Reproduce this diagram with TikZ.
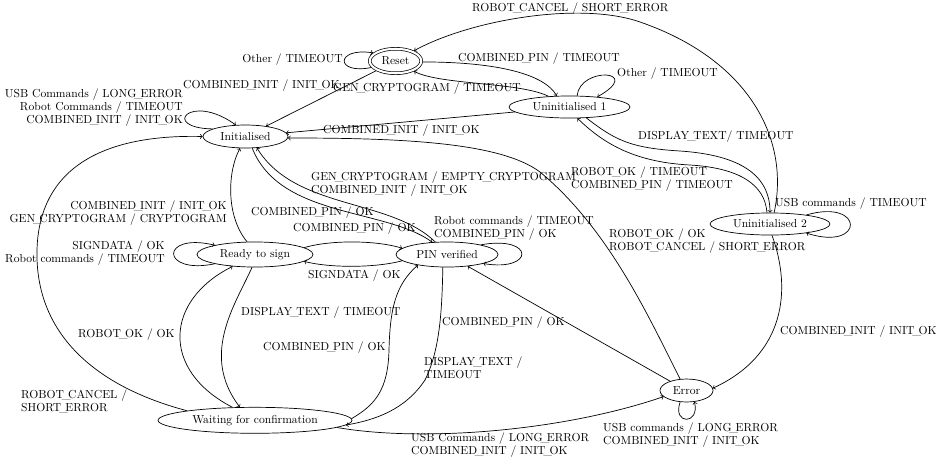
\documentclass[tikz,border=0pt]{standalone}
\usetikzlibrary{shapes.geometric}
% a tight underscore, as in the classic OT1 rendering
\newcommand\usc{\kern-0.2em\_\kern-0.2em}
\begin{document}
\begin{tikzpicture}[x=0.8621pt,y=-0.8621pt,
  every node/.style={font=\fontsize{10}{11.2}\selectfont},
  state/.style={draw, ellipse, inner sep=0pt, line width=0.6pt},
  lbl/.style={inner sep=0pt},
  lblL/.style={lbl, anchor=west, align=left},
  lblR/.style={lbl, anchor=east, align=right},
  tr/.style={->, line width=0.6pt},
]
\useasboundingbox (0,0) rectangle (942,460);

% states
\node[state, double, double distance=1.8pt, outer sep=1.5pt,
      minimum width=44.4pt, minimum height=21.1pt] (reset) at (395.5,61) {Reset};
\node[state, minimum width=104.3pt, minimum height=19pt]   (uninit1) at (569.5,107)  {Uninitialised 1};
\node[state, minimum width=73.3pt,  minimum height=19.8pt] (init)    at (245.5,136.5) {Initialised};
\node[state, minimum width=100pt,   minimum height=21.6pt] (ready)   at (255,254.5)  {Ready to sign};
\node[state, minimum width=87.9pt,  minimum height=21.6pt] (pin)     at (447,254.5)  {PIN verified};
\node[state, minimum width=167.2pt, minimum height=22.4pt] (wait)    at (255,420.3)  {Waiting for confirmation};
\node[state, minimum width=103.4pt, minimum height=19pt]   (uninit2) at (770,224)    {Uninitialised 2};
\node[state, minimum width=45.7pt,  minimum height=19.8pt] (error)   at (686.5,390.5) {Error};

% transitions out of Reset
\draw[tr] (reset.195) .. controls (335,75) and (335,47) .. (reset.160);
\draw[tr] (reset) -- (init);
\draw[tr] (reset.-2) .. controls (500,62) and (545,75) .. (uninit1.139);

% transitions out of Uninitialised 1
\draw[tr] (uninit1.153) .. controls (520,82) and (440,85) .. (reset.-29);
\draw[tr] (uninit1.56) .. controls (580,66) and (645,70) .. (uninit1.20);
\draw[tr] (uninit1) -- (init);
\draw[tr] (uninit1.-33) .. controls (615,140) and (630,148) .. (680,151)
          .. controls (740,155) and (770,175) .. (uninit2.90);

% transitions out of Uninitialised 2
\draw[tr] (uninit2.105) .. controls (765,185) and (740,168) .. (690,165)
          .. controls (630,162) and (600,140) .. (uninit1.-55);
\draw[tr] (uninit2.70) .. controls (790,140) and (750,60) .. (640,22)
          .. controls (580,1) and (470,20) .. (reset.29);
\draw[tr] (uninit2.14) .. controls (865,198) and (865,252) .. (uninit2.-14);
\draw[tr] (uninit2.-80) .. controls (792,290) and (785,355) .. (error.5);

% transitions out of Initialised
\draw[tr] (init.167) .. controls (160,128) and (190,92) .. (init.130);
\draw[tr] (init.-60) .. controls (280,218) and (385,208) .. (pin.140);

% transitions out of Ready to sign
\draw[tr] (ready.193) .. controls (160,275) and (160,232) .. (ready.167);
\draw[tr] (ready.122) .. controls (225,215) and (228,170) .. (init.-115);
\draw[tr] (ready.8) .. controls (330,240) and (375,240) .. (pin.172);
\draw[tr] (ready.-103) .. controls (235,305) and (200,355) .. (wait.139);

% transitions out of PIN verified
\draw[tr] (pin.133) .. controls (390,198) and (295,210) .. (init.-45);
\draw[tr] (pin.188) .. controls (375,268) and (330,268) .. (ready.-8);
\draw[tr] (pin.16) .. controls (535,235) and (535,272) .. (pin.-14);
\draw[tr] (pin.252) .. controls (442,310) and (440,350) .. (425,380)
          .. controls (405,410) and (375,420) .. (wait.-3.6);

% transitions out of Waiting for confirmation
\draw[tr] (wait.172) .. controls (90,385) and (35,330) .. (37,250)
          .. controls (39,170) and (100,134) .. (init.180);
\draw[tr] (wait.150) .. controls (160,370) and (165,300) .. (ready.208);
\draw[tr] (wait.1.5) .. controls (375,405) and (388,390) .. (389,350)
          .. controls (390,310) and (395,285) .. (pin.200);
\draw[tr] (wait.-5) .. controls (420,442) and (560,432) .. (error.195);

% transitions out of Error
\draw[tr] (error) -- (pin);
\draw[tr] (error.119.5) .. controls (650,320) and (610,230) .. (540,172)
          .. controls (500,142) and (400,138) .. (init.-2);
\draw[tr] (error.-119.5) .. controls (672,425) and (700,425) .. (error.-55);

% transition labels
\node[lblR] (t-reset-loop) at (343,60) {Other / TIMEOUT};
\node[lblL] (t-reset-init) at (183,86) {COMBINED\usc INIT / INIT\usc OK};
\node[lblL] (t-reset-u1) at (458,59) {COMBINED\usc PIN / TIMEOUT};
\node[lblL] (t-u1-reset) at (333,89) {GEN\usc CRYPTOGRAM / TIMEOUT};
\node[lblL] (t-u1-loop) at (617,74) {Other / TIMEOUT};
\node[lblL] (t-u1-init) at (323,131) {COMBINED\usc INIT / INIT\usc OK};
\node[lblL] (t-u2-reset) at (472,9) {ROBOT\usc CANCEL / SHORT\usc ERROR};
\node[lblL] (t-u1-u2) at (638,137) {DISPLAY\usc TEXT/ TIMEOUT};
\node[lblL] (t-u2-u1) at (571,179.5) {ROBOT\usc OK / TIMEOUT\\COMBINED\usc PIN / TIMEOUT};
\node[lblL] (t-u2-loop) at (775,204) {USB commands / TIMEOUT};
\node[lblL] (t-err-init) at (609,241) {ROBOT\usc OK / OK\\ROBOT\usc CANCEL / SHORT\usc ERROR};
\node[lblL] (t-u2-err) at (780,332) {COMBINED\usc INIT / INIT\usc OK};
\node[lblR] (t-init-loop) at (183,108) {USB Commands / LONG\usc ERROR\\Robot Commands / TIMEOUT\\COMBINED\usc INIT / INIT\usc OK};
\node[lblR] (t-ready-init) at (227,213.5) {COMBINED\usc INIT / INIT\usc OK\\GEN\usc CRYPTOGRAM / CRYPTOGRAM};
\node[lblR] (t-ready-loop) at (165,253) {SIGNDATA / OK\\Robot commands / TIMEOUT};
\node[lblL] (t-pin-init) at (311,184) {GEN\usc CRYPTOGRAM / EMPTY\usc CRYPTOGRAM\\COMBINED\usc INIT / INIT\usc OK};
\node[lblL] (t-init-pin) at (251,213) {COMBINED\usc PIN / OK};
\node[lblL] (t-ready-pin) at (293,229) {COMBINED\usc PIN / OK};
\node[lblL] (t-pin-ready) at (308,276) {SIGNDATA / OK};
\node[lblL] (t-pin-loop) at (434,228) {Robot commands / TIMEOUT\\COMBINED\usc PIN / OK};
\node[lblL] (t-ready-wait) at (241,313) {DISPLAY\usc TEXT / TIMEOUT};
\node[lblL] (t-wait-ready) at (78,335) {ROBOT\usc OK / OK};
\node[lblL] (t-wait-pin) at (263,348) {COMBINED\usc PIN / OK};
\node[lblL] (t-pin-wait) at (424,368) {DISPLAY\usc TEXT /\\TIMEOUT};
\node[lblL] (t-wait-init) at (21,401.5) {ROBOT\usc CANCEL /\\SHORT\usc ERROR};
\node[lblL] (t-wait-err) at (411,445.5) {USB Commands / LONG\usc ERROR\\COMBINED\usc INIT / INIT\usc OK};
\node[lblL] (t-err-pin) at (442,323) {COMBINED\usc PIN / OK};
\node[lblL] (t-err-loop) at (603,435) {USB commands / LONG\usc ERROR\\COMBINED\usc INIT / INIT\usc OK};
\end{tikzpicture}
\end{document}
